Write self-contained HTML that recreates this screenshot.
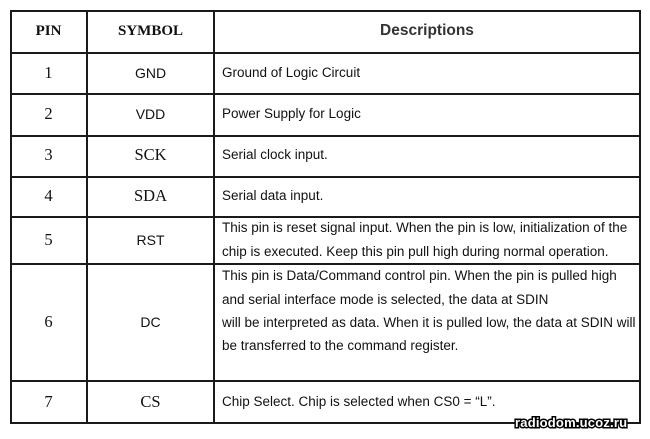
<!DOCTYPE html>
<html><head><style>
body{margin:0;width:650px;height:439px;background:#fff;position:relative;overflow:hidden}
.h{position:absolute;left:10px;width:631px;height:2px;background:#1a1a1a}
.v{position:absolute;top:10px;height:414px;width:2px;background:#1a1a1a}
.t{position:absolute;white-space:nowrap;color:#111;line-height:20px}
.s{font-family:"Liberation Sans",Arial,sans-serif;font-size:13.5px}
.r{font-family:"Liberation Serif",serif;font-size:16.5px}
.c1{left:10px;width:77px;text-align:center}
.c2{left:87px;width:127px;text-align:center}
.d{left:222px}
.wm{position:absolute;left:515px;top:415px;font-family:"Liberation Sans",sans-serif;font-weight:bold;font-size:13px;color:#fff;-webkit-text-stroke:3px #000;paint-order:stroke fill;letter-spacing:0.2px}
</style></head><body>
<div class="h" style="top:10px"></div>
<div class="h" style="top:52px"></div>
<div class="h" style="top:93px"></div>
<div class="h" style="top:135px"></div>
<div class="h" style="top:176px"></div>
<div class="h" style="top:216px"></div>
<div class="h" style="top:263px"></div>
<div class="h" style="top:380px"></div>
<div class="h" style="top:422px"></div>
<div class="v" style="left:10px"></div>
<div class="v" style="left:86px"></div>
<div class="v" style="left:213px"></div>
<div class="v" style="left:639px"></div>

<div class="t r c1" style="top:21px;font-weight:bold;font-size:15px">PIN</div>
<div class="t r c2" style="top:21px;font-weight:bold;font-size:15px">SYMBOL</div>
<div class="t s" style="left:214px;width:426px;text-align:center;top:21px;font-weight:bold;font-size:15.5px;color:#333">Descriptions</div>

<div class="t r c1" style="top:63px">1</div>
<div class="t s c2" style="top:63px;font-size:14px">GND</div>
<div class="t s d" style="top:63px">Ground of Logic Circuit</div>

<div class="t r c1" style="top:104px">2</div>
<div class="t s c2" style="top:104px;font-size:14px">VDD</div>
<div class="t s d" style="top:104px">Power Supply for Logic</div>

<div class="t r c1" style="top:145px">3</div>
<div class="t r c2" style="top:145px">SCK</div>
<div class="t s d" style="top:145px">Serial clock input.</div>

<div class="t r c1" style="top:186px">4</div>
<div class="t r c2" style="top:186px">SDA</div>
<div class="t s d" style="top:186px">Serial data input.</div>

<div class="t r c1" style="top:230px">5</div>
<div class="t s c2" style="top:230px;font-size:14px">RST</div>
<div class="t s d" style="top:218px">This pin is reset signal input. When the pin is low, initialization of the</div>
<div class="t s d" style="top:242px">chip is executed. Keep this pin pull high during normal operation.</div>

<div class="t r c1" style="top:312px">6</div>
<div class="t s c2" style="top:312px;font-size:14px">DC</div>
<div class="t s d" style="top:266px">This pin is Data/Command control pin. When the pin is pulled high</div>
<div class="t s d" style="top:290px">and serial interface mode is selected, the data at SDIN</div>
<div class="t s d" style="top:313px">will be interpreted as data. When it is pulled low, the data at SDIN will</div>
<div class="t s d" style="top:336px">be transferred to the command register.</div>

<div class="t r c1" style="top:392px">7</div>
<div class="t r c2" style="top:392px">CS</div>
<div class="t s d" style="top:392px">Chip Select. Chip is selected when CS0 = “L”.</div>

<div class="wm">radiodom.ucoz.ru</div>
</body></html>
